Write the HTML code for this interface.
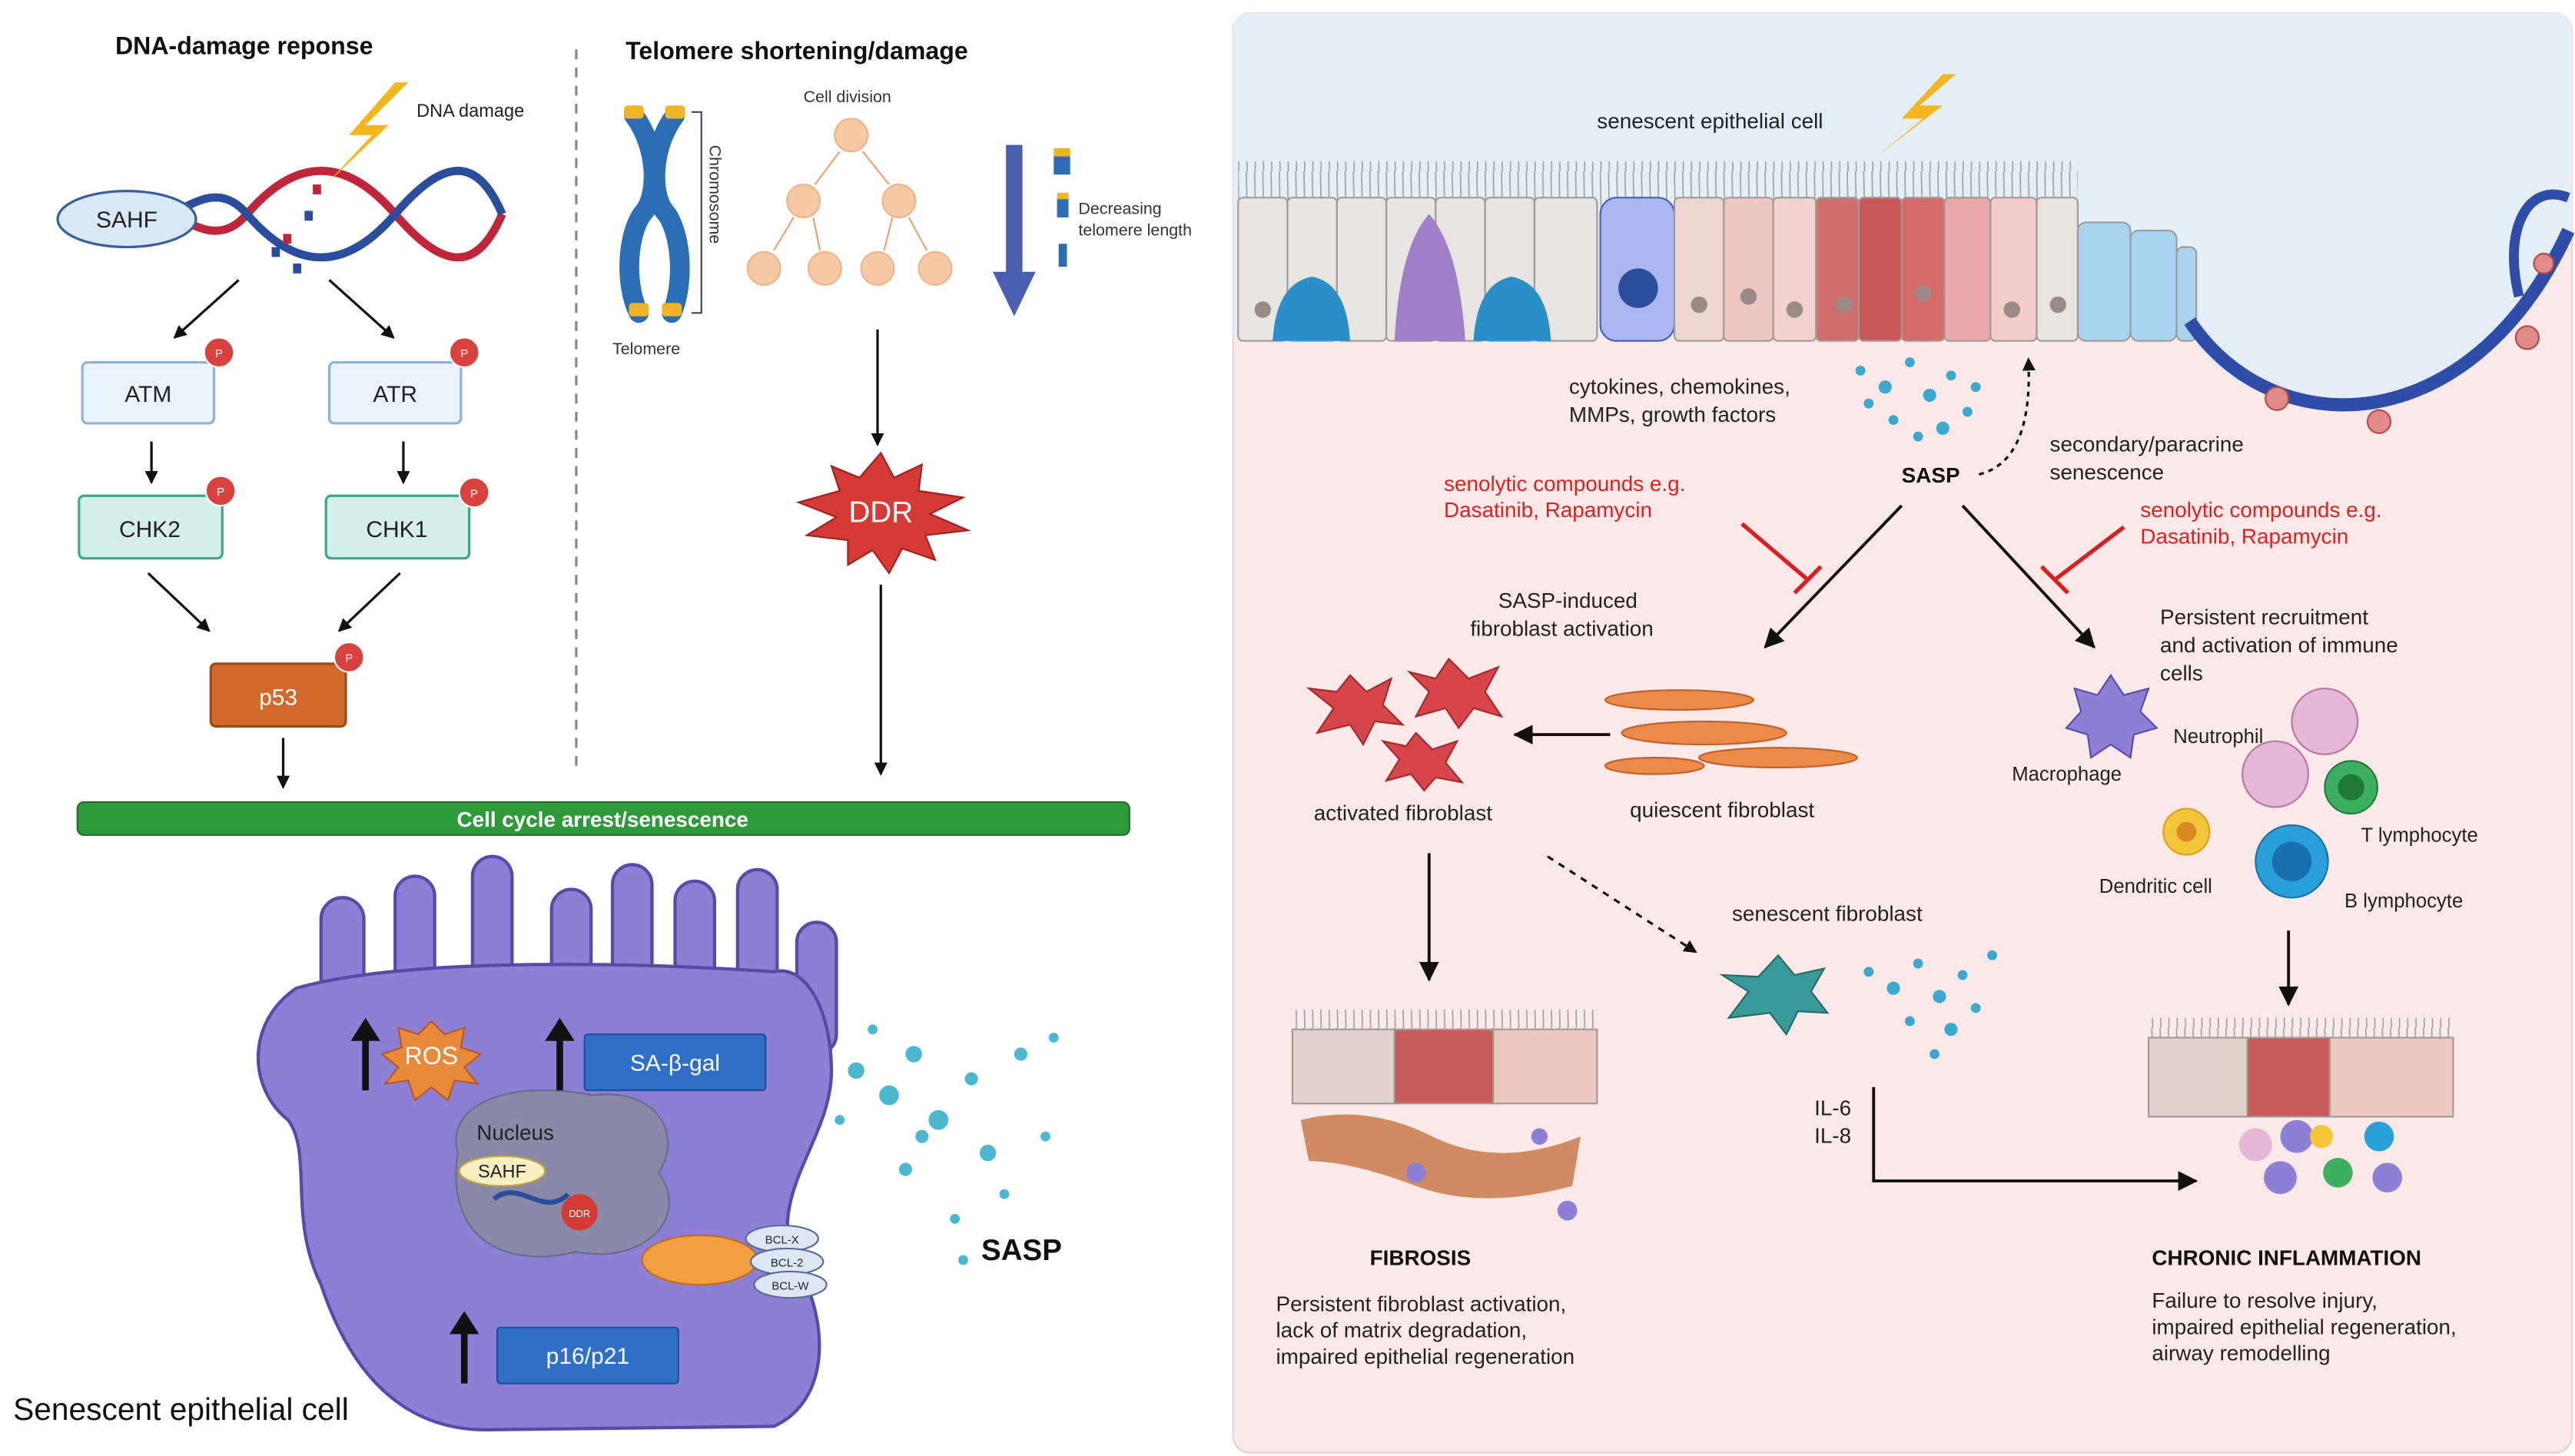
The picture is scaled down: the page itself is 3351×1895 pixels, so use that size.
<!DOCTYPE html>
<html><head><meta charset="utf-8"><style>
html,body{margin:0;padding:0;background:#fff;}
svg{display:block;}
text{font-family:"Liberation Sans",Arial,sans-serif;}
</style></head><body>
<svg width="3351" height="1895" viewBox="0 0 1564 884" preserveAspectRatio="none" xmlns="http://www.w3.org/2000/svg">
<defs>
<marker id="ah" markerWidth="8" markerHeight="8" refX="7" refY="4" orient="auto" markerUnits="userSpaceOnUse"><path d="M0,0 L8,4 L0,8 z" fill="#111"/></marker>
<marker id="ah2" markerWidth="12" markerHeight="12" refX="11" refY="6" orient="auto" markerUnits="userSpaceOnUse"><path d="M0,0 L12,6 L0,12 z" fill="#111"/></marker>
<pattern id="cil" width="5" height="26" patternUnits="userSpaceOnUse"><line x1="2" y1="0" x2="2.5" y2="26" stroke="#9aa3aa" stroke-width="0.8"/></pattern>
</defs>
<rect width="1564" height="884" fill="#fff"/>

<!-- LEFT PANEL -->
<text x="70" y="33" font-size="15" font-weight="bold" fill="#111">DNA-damage reponse</text>
<text x="380" y="36" font-size="15" font-weight="bold" fill="#111">Telomere shortening/damage</text>
<line x1="350" y1="30" x2="350" y2="470" stroke="#888" stroke-width="1.5" stroke-dasharray="6,5"/>

<path d="M60,130 C90,95 120,165 150,130 S210,95 240,130 S290,165 305,130" fill="none" stroke="#c0263a" stroke-width="5"/>
<path d="M60,130 C90,165 120,95 150,130 S210,165 240,130 S290,95 305,130" fill="none" stroke="#2a4e9c" stroke-width="5"/>
<g fill="#2a4e9c"><rect x="165" y="150" width="5" height="6"/><rect x="178" y="160" width="5" height="6"/><rect x="185" y="128" width="5" height="6"/></g>
<g fill="#c0263a"><rect x="172" y="142" width="5" height="6"/><rect x="190" y="112" width="5" height="6"/></g>
<ellipse cx="77" cy="133" rx="42" ry="17" fill="#d8e8f6" stroke="#3a5e9a" stroke-width="1.5"/>
<text x="77" y="138" font-size="14" text-anchor="middle" fill="#222">SAHF</text>
<polygon points="240,50 212,82 226,82 198,112 236,76 222,76 248,50" fill="#f3b71d"/>
<text x="253" y="71" font-size="11" fill="#222">DNA damage</text>
<line x1="145" y1="170" x2="106" y2="205" stroke="#111" stroke-width="1.5" marker-end="url(#ah)"/>
<line x1="200" y1="170" x2="239" y2="205" stroke="#111" stroke-width="1.5" marker-end="url(#ah)"/>
<rect x="50" y="220" width="80" height="37" rx="3" fill="#eaf2fb" stroke="#8fb2d8" stroke-width="1.5"/>
<text x="90" y="244" font-size="14" text-anchor="middle" fill="#222">ATM</text>
<rect x="200" y="220" width="80" height="37" rx="3" fill="#eaf2fb" stroke="#8fb2d8" stroke-width="1.5"/>
<text x="240" y="244" font-size="14" text-anchor="middle" fill="#222">ATR</text>
<line x1="92" y1="268" x2="92" y2="293" stroke="#111" stroke-width="1.5" marker-end="url(#ah)"/>
<line x1="245" y1="268" x2="245" y2="293" stroke="#111" stroke-width="1.5" marker-end="url(#ah)"/>
<rect x="48" y="301" width="87" height="38" rx="3" fill="#d4efe8" stroke="#3fa58f" stroke-width="1.5"/>
<text x="91" y="326" font-size="14" text-anchor="middle" fill="#222">CHK2</text>
<rect x="198" y="301" width="87" height="38" rx="3" fill="#d4efe8" stroke="#3fa58f" stroke-width="1.5"/>
<text x="241" y="326" font-size="14" text-anchor="middle" fill="#222">CHK1</text>
<line x1="90" y1="348" x2="127" y2="383" stroke="#111" stroke-width="1.5" marker-end="url(#ah)"/>
<line x1="243" y1="348" x2="206" y2="383" stroke="#111" stroke-width="1.5" marker-end="url(#ah)"/>
<rect x="128" y="403" width="82" height="38" rx="3" fill="#d2692a" stroke="#9c4a18" stroke-width="1.5"/>
<text x="169" y="428" font-size="14" text-anchor="middle" fill="#fff">p53</text>
<g fill="#d9413f" stroke="#fff" stroke-width="1"><circle cx="133" cy="214" r="9"/><circle cx="282" cy="214" r="9"/><circle cx="134" cy="298" r="9"/><circle cx="288" cy="299" r="9"/><circle cx="212" cy="399" r="9"/></g>
<g font-size="7" fill="#fff" text-anchor="middle"><text x="133" y="217">P</text><text x="282" y="217">P</text><text x="134" y="301">P</text><text x="288" y="302">P</text><text x="212" y="402">P</text></g>
<line x1="172" y1="448" x2="172" y2="478" stroke="#111" stroke-width="1.5" marker-end="url(#ah)"/>

<path d="M385,70 C400,90 400,120 390,130 C380,145 380,175 388,190" stroke="#2a6fb5" stroke-width="12" fill="none" stroke-linecap="round"/>
<path d="M410,70 C395,90 395,120 405,130 C415,145 415,175 408,190" stroke="#2a6fb5" stroke-width="12" fill="none" stroke-linecap="round"/>
<g fill="#f0b429"><rect x="379" y="64" width="12" height="8" rx="2"/><rect x="404" y="64" width="12" height="8" rx="2"/><rect x="382" y="184" width="12" height="8" rx="2"/><rect x="402" y="184" width="12" height="8" rx="2"/></g>
<path d="M420,68 L426,68 L426,190 L420,190" fill="none" stroke="#444" stroke-width="1"/>
<text x="0" y="0" font-size="10" fill="#333" transform="translate(431,88) rotate(90)">Chromosome</text>
<text x="372" y="215" font-size="10" fill="#333">Telomere</text>
<text x="488" y="62" font-size="10" fill="#333">Cell division</text>
<g fill="#f6c9a4" stroke="#e9b58a"><circle cx="517" cy="82" r="10"/><circle cx="488" cy="122" r="10"/><circle cx="546" cy="122" r="10"/><circle cx="464" cy="163" r="10"/><circle cx="501" cy="163" r="10"/><circle cx="533" cy="163" r="10"/><circle cx="568" cy="163" r="10"/></g>
<g stroke="#e9a070" stroke-width="1" fill="none"><line x1="510" y1="92" x2="495" y2="112"/><line x1="524" y1="92" x2="540" y2="112"/><line x1="482" y1="132" x2="470" y2="152"/><line x1="494" y1="132" x2="498" y2="152"/><line x1="542" y1="132" x2="537" y2="152"/><line x1="552" y1="132" x2="563" y2="152"/></g>
<polygon points="611,88 621,88 621,165 629,165 616,192 603,165 611,165" fill="#4a5fb0"/>
<rect x="640" y="94" width="10" height="12" fill="#2a6fb5"/><rect x="640" y="90" width="10" height="5" fill="#f0b429"/>
<rect x="642" y="120" width="7" height="12" fill="#2a6fb5"/><rect x="642" y="117" width="7" height="4" fill="#f0b429"/>
<rect x="643" y="148" width="5" height="14" fill="#2a6fb5"/>
<text x="655" y="130" font-size="10" fill="#333">Decreasing</text>
<text x="655" y="143" font-size="10" fill="#333">telomere length</text>
<line x1="533" y1="200" x2="533" y2="270" stroke="#111" stroke-width="1.5" marker-end="url(#ah)"/>
<polygon points="535,275 543,290 560,282 558,298 585,302 565,312 588,322 562,325 568,340 548,333 540,348 530,334 515,343 515,328 490,325 508,314 485,305 510,298 505,283 522,290" fill="#d63a35" stroke="#a01f1f"/>
<text x="535" y="317" font-size="18" text-anchor="middle" fill="#fff">DDR</text>
<line x1="535" y1="355" x2="535" y2="470" stroke="#111" stroke-width="1.5" marker-end="url(#ah)"/>

<rect x="47" y="487" width="639" height="20" rx="4" fill="#2e9a3a" stroke="#1f6e28"/>
<text x="366" y="502" font-size="13" font-weight="bold" text-anchor="middle" fill="#fff">Cell cycle arrest/senescence</text>

<g fill="#8e7fd6" stroke="#5a4aa8" stroke-width="2">
<rect x="195" y="545" width="26" height="80" rx="13"/><rect x="240" y="532" width="24" height="90" rx="12"/>
<rect x="287" y="520" width="24" height="100" rx="12"/><rect x="335" y="540" width="24" height="80" rx="12"/>
<rect x="372" y="525" width="24" height="90" rx="12"/><rect x="410" y="535" width="24" height="90" rx="12"/>
<rect x="448" y="528" width="24" height="100" rx="12"/><rect x="484" y="560" width="24" height="80" rx="12"/>
<path d="M180,600 C150,620 150,660 175,680 C190,700 175,740 195,780 C215,840 250,870 300,868 L470,866 C505,850 505,800 480,760 C470,720 505,690 505,650 C505,615 490,585 470,590 C400,585 250,580 180,600 Z"/>
</g>
<path d="M278,700 C270,670 310,655 360,665 C400,660 415,690 400,712 C420,740 390,768 350,760 C310,770 270,755 278,700 Z" fill="#8a8aa8" stroke="#6a6a8a"/>
<text x="313" y="692" font-size="13" text-anchor="middle" fill="#222">Nucleus</text>
<ellipse cx="305" cy="711" rx="26" ry="9" fill="#f7efc2" stroke="#c9a437"/>
<text x="305" y="715" font-size="11" text-anchor="middle" fill="#222">SAHF</text>
<path d="M300,728 C315,715 330,740 345,725" stroke="#2a4e9c" stroke-width="3" fill="none"/>
<circle cx="352" cy="736" r="11" fill="#d63a35"/><text x="352" y="739" font-size="6" text-anchor="middle" fill="#fff">DDR</text>
<polygon points="262,620 270,628 282,624 280,636 292,640 282,648 290,658 276,656 272,668 262,660 252,668 248,656 234,658 242,648 232,640 244,636 242,624 254,628" fill="#e88a3a" stroke="#b8581a"/>
<text x="262" y="646" font-size="15" text-anchor="middle" fill="#fff">ROS</text>
<rect x="355" y="628" width="110" height="34" rx="2" fill="#2f6fc8" stroke="#1c4f95"/>
<text x="410" y="650" font-size="14" text-anchor="middle" fill="#fff">SA-β-gal</text>
<rect x="302" y="806" width="110" height="34" rx="2" fill="#2f6fc8" stroke="#1c4f95"/>
<text x="357" y="828" font-size="14" text-anchor="middle" fill="#fff">p16/p21</text>
<g stroke="#111" stroke-width="4"><line x1="222" y1="662" x2="222" y2="628"/><line x1="340" y1="662" x2="340" y2="628"/><line x1="282" y1="840" x2="282" y2="806"/></g>
<g fill="#111"><polygon points="213,632 222,618 231,632"/><polygon points="331,632 340,618 349,632"/><polygon points="273,810 282,796 291,810"/></g>
<ellipse cx="425" cy="765" rx="35" ry="15" fill="#f0a040" stroke="#c06a1a"/>
<g fill="#dde6f3" stroke="#5a6a9a"><ellipse cx="475" cy="752" rx="22" ry="8"/><ellipse cx="478" cy="766" rx="22" ry="8"/><ellipse cx="480" cy="780" rx="22" ry="8"/></g>
<g font-size="7" fill="#223" text-anchor="middle"><text x="475" y="755">BCL-X</text><text x="478" y="769">BCL-2</text><text x="480" y="783">BCL-W</text></g>
<g fill="#4cb8cf"><circle cx="520" cy="650" r="5"/><circle cx="540" cy="665" r="6"/><circle cx="555" cy="640" r="5"/><circle cx="570" cy="680" r="6"/><circle cx="590" cy="655" r="4"/><circle cx="600" cy="700" r="5"/><circle cx="620" cy="640" r="4"/><circle cx="610" cy="725" r="3"/><circle cx="580" cy="740" r="3"/><circle cx="635" cy="690" r="3"/><circle cx="550" cy="710" r="4"/><circle cx="510" cy="680" r="3"/><circle cx="640" cy="630" r="3"/><circle cx="585" cy="765" r="3"/><circle cx="530" cy="625" r="3"/><circle cx="560" cy="690" r="4"/></g>
<text x="596" y="765" font-size="18" font-weight="bold" fill="#111">SASP</text>
<text x="8" y="862" font-size="19" fill="#111">Senescent epithelial cell</text>

<!-- RIGHT PANEL -->
<rect x="749" y="8" width="813" height="874" rx="10" fill="#fbe8e8" stroke="#e8d0d0"/>
<path d="M749,205 L749,18 Q749,8 759,8 L1552,8 Q1562,8 1562,18 L1562,140 C1500,270 1380,270 1330,205 Z" fill="#e4eef7"/>
<rect x="752" y="98" width="510" height="28" fill="url(#cil)"/>
<g stroke="#a09a96" stroke-width="1">
<rect x="752" y="120" width="30" height="87" rx="3" fill="#e7e4e2"/><rect x="782" y="120" width="30" height="87" rx="3" fill="#e7e4e2"/>
<rect x="812" y="120" width="30" height="87" rx="3" fill="#e7e4e2"/><rect x="842" y="120" width="30" height="87" rx="3" fill="#e7e4e2"/>
<rect x="872" y="120" width="30" height="87" rx="3" fill="#e7e4e2"/><rect x="902" y="120" width="30" height="87" rx="3" fill="#e7e4e2"/>
<rect x="932" y="120" width="38" height="87" rx="3" fill="#e7e4e2"/>
<rect x="972" y="120" width="45" height="87" rx="10" fill="#a9b6ef" stroke="#4a5fb0"/>
<rect x="1017" y="120" width="30" height="87" rx="3" fill="#efd5cf"/><rect x="1047" y="120" width="30" height="87" rx="3" fill="#ecc8c0"/>
<rect x="1077" y="120" width="26" height="87" rx="3" fill="#f1d2cc"/>
<rect x="1103" y="120" width="26" height="87" rx="3" fill="#cf6e6e"/><rect x="1129" y="120" width="26" height="87" rx="3" fill="#c85858"/>
<rect x="1155" y="120" width="26" height="87" rx="3" fill="#d46a6a"/><rect x="1181" y="120" width="28" height="87" rx="3" fill="#e9a9a9"/>
<rect x="1209" y="120" width="28" height="87" rx="3" fill="#f3cccc"/><rect x="1237" y="120" width="25" height="87" rx="3" fill="#e8e4e0"/>
<rect x="1262" y="135" width="32" height="72" rx="5" fill="#a8d3ee"/><rect x="1294" y="140" width="28" height="67" rx="5" fill="#a8d3ee"/>
<rect x="1322" y="150" width="12" height="57" rx="4" fill="#a8d3ee"/>
</g>
<g fill="#2a8fc7"><path d="M773,207 Q775,172 797,168 Q818,172 820,207 Z"/><path d="M895,207 Q897,172 918,168 Q940,172 942,207 Z"/></g>
<path d="M847,207 Q850,150 868,130 Q886,150 890,207 Z" fill="#a07fc8"/>
<circle cx="995" cy="175" r="12" fill="#2a4e9c"/>
<g fill="#9a8a86"><circle cx="767" cy="188" r="5"/><circle cx="1032" cy="185" r="5"/><circle cx="1062" cy="180" r="5"/><circle cx="1090" cy="188" r="5"/><circle cx="1120" cy="185" r="5"/><circle cx="1168" cy="178" r="5"/><circle cx="1222" cy="188" r="5"/><circle cx="1250" cy="185" r="5"/></g>
<path d="M1330,195 C1380,270 1500,270 1560,140" fill="none" stroke="#2f4da8" stroke-width="8"/>
<path d="M1560,120 C1535,110 1520,140 1530,180" fill="none" stroke="#2f4da8" stroke-width="6"/>
<g fill="#e08a8a" stroke="#b24a4a"><circle cx="1383" cy="242" r="7"/><circle cx="1445" cy="256" r="7"/><circle cx="1535" cy="205" r="7"/><circle cx="1545" cy="160" r="6"/></g>
<text x="970" y="78" font-size="13" fill="#222">senescent epithelial cell</text>
<polygon points="1180,45 1155,72 1168,72 1140,95 1180,64 1166,64 1188,45" fill="#f3b71d"/>
<text x="953" y="239" font-size="13" fill="#222">cytokines, chemokines,</text>
<text x="953" y="256" font-size="13" fill="#222">MMPs, growth factors</text>
<g fill="#3aa8cf"><circle cx="1130" cy="225" r="3"/><circle cx="1145" cy="235" r="4"/><circle cx="1160" cy="220" r="3"/><circle cx="1172" cy="240" r="4"/><circle cx="1185" cy="228" r="3"/><circle cx="1150" cy="255" r="3"/><circle cx="1180" cy="260" r="4"/><circle cx="1195" cy="250" r="3"/><circle cx="1165" cy="265" r="3"/><circle cx="1135" cy="245" r="3"/><circle cx="1200" cy="235" r="3"/></g>
<text x="1155" y="293" font-size="13" font-weight="bold" fill="#111">SASP</text>
<path d="M1202,288 Q1235,280 1232,218" fill="none" stroke="#111" stroke-width="1.5" stroke-dasharray="3,3" marker-end="url(#ah)"/>
<text x="1245" y="274" font-size="13" fill="#222">secondary/paracrine</text>
<text x="1245" y="291" font-size="13" fill="#222">senescence</text>
<g font-size="13" fill="#e02020"><text x="877" y="298">senolytic compounds e.g.</text><text x="877" y="314">Dasatinib, Rapamycin</text>
<text x="1300" y="314">senolytic compounds e.g.</text><text x="1300" y="330">Dasatinib, Rapamycin</text></g>
<g stroke="#d82020" stroke-width="2.5"><line x1="1058" y1="318" x2="1098" y2="352"/><line x1="1090" y1="360" x2="1106" y2="344"/>
<line x1="1290" y1="320" x2="1248" y2="352"/><line x1="1240" y1="344" x2="1256" y2="360"/></g>
<line x1="1155" y1="307" x2="1072" y2="393" stroke="#111" stroke-width="1.8" marker-end="url(#ah2)"/>
<line x1="1192" y1="307" x2="1272" y2="393" stroke="#111" stroke-width="1.8" marker-end="url(#ah2)"/>
<text x="910" y="369" font-size="13" fill="#222">SASP-induced</text>
<text x="893" y="386" font-size="13" fill="#222">fibroblast activation</text>
<text x="1312" y="379" font-size="13" fill="#222">Persistent recruitment</text>
<text x="1312" y="396" font-size="13" fill="#222">and activation of immune</text>
<text x="1312" y="413" font-size="13" fill="#222">cells</text>
<g fill="#d8454a" stroke="#a02a2e"><polygon points="820,410 830,420 845,412 840,428 852,440 835,438 828,452 820,440 800,445 810,430 795,418 812,420"/>
<polygon points="880,400 892,412 910,405 902,420 912,435 895,430 886,442 878,430 860,435 868,420 856,408 872,412"/>
<polygon points="860,445 870,455 885,450 878,463 888,475 872,472 865,480 857,470 842,474 850,461 840,450 854,453"/></g>
<line x1="978" y1="446" x2="920" y2="446" stroke="#111" stroke-width="1.8" marker-end="url(#ah2)"/>
<g fill="#ec8a4a" stroke="#c0602a"><ellipse cx="1020" cy="425" rx="45" ry="6"/><ellipse cx="1035" cy="445" rx="50" ry="7"/><ellipse cx="1080" cy="460" rx="48" ry="6"/><ellipse cx="1005" cy="465" rx="30" ry="5"/></g>
<text x="798" y="498" font-size="13" fill="#222">activated fibroblast</text>
<text x="990" y="496" font-size="13" fill="#222">quiescent fibroblast</text>
<g fill="#8d7fd6" stroke="#5a4aa8"><polygon points="1282,410 1290,422 1305,418 1300,432 1310,442 1296,446 1294,460 1282,452 1270,460 1268,446 1255,442 1264,432 1260,418 1274,422"/></g>
<text x="1222" y="474" font-size="12" fill="#222">Macrophage</text>
<text x="1320" y="451" font-size="12" fill="#222">Neutrophil</text>
<circle cx="1412" cy="438" r="20" fill="#e6b6d6" stroke="#b07aa0"/>
<circle cx="1382" cy="470" r="20" fill="#e6b6d6" stroke="#b07aa0"/>
<circle cx="1428" cy="478" r="16" fill="#3cb060" stroke="#207a40"/><circle cx="1428" cy="478" r="8" fill="#1f7a3a"/>
<circle cx="1392" cy="523" r="22" fill="#2a9fd8" stroke="#1a70a8"/><circle cx="1392" cy="523" r="12" fill="#1a6fb0"/>
<circle cx="1328" cy="505" r="14" fill="#f3c63a" stroke="#d8a020"/><circle cx="1328" cy="505" r="6" fill="#d88a20"/>
<text x="1434" y="511" font-size="12" fill="#222">T lymphocyte</text>
<text x="1275" y="542" font-size="12" fill="#222">Dendritic cell</text>
<text x="1424" y="551" font-size="12" fill="#222">B lymphocyte</text>
<line x1="868" y1="518" x2="868" y2="595" stroke="#111" stroke-width="1.8" marker-end="url(#ah2)"/>
<line x1="940" y1="520" x2="1030" y2="578" stroke="#111" stroke-width="1.5" stroke-dasharray="4,4" marker-end="url(#ah)"/>
<text x="1052" y="559" font-size="13" fill="#222">senescent fibroblast</text>
<polygon points="1080,580 1090,592 1108,588 1100,602 1110,615 1092,614 1085,628 1075,615 1050,618 1062,602 1046,592 1068,593" fill="#3a9a9a" stroke="#246a6a"/>
<g fill="#3aa8cf"><circle cx="1135" cy="590" r="3"/><circle cx="1150" cy="600" r="4"/><circle cx="1165" cy="585" r="3"/><circle cx="1178" cy="605" r="4"/><circle cx="1192" cy="592" r="3"/><circle cx="1160" cy="620" r="3"/><circle cx="1185" cy="625" r="4"/><circle cx="1200" cy="612" r="3"/><circle cx="1210" cy="580" r="3"/><circle cx="1175" cy="640" r="3"/></g>
<text x="1102" y="677" font-size="13" fill="#222">IL-6</text>
<text x="1102" y="694" font-size="13" fill="#222">IL-8</text>
<path d="M1138,660 L1138,717 L1334,717" fill="none" stroke="#111" stroke-width="1.8" marker-end="url(#ah2)"/>
<line x1="1390" y1="565" x2="1390" y2="610" stroke="#111" stroke-width="1.8" marker-end="url(#ah2)"/>
<rect x="785" y="613" width="185" height="12" fill="url(#cil)"/>
<g stroke="#a09a96"><rect x="785" y="625" width="62" height="45" fill="#e0d2cc"/><rect x="847" y="625" width="60" height="45" fill="#c85a5a"/><rect x="907" y="625" width="63" height="45" fill="#ecc8c0"/></g>
<path d="M790,680 Q830,670 870,690 T960,690 L955,720 Q900,735 860,720 T795,705 Z" fill="#c87a4a" opacity="0.85"/>
<g fill="#8d7fd6"><circle cx="860" cy="712" r="6"/><circle cx="952" cy="735" r="6"/><circle cx="935" cy="690" r="5"/></g>
<text x="832" y="768" font-size="13" font-weight="bold" fill="#111">FIBROSIS</text>
<g font-size="13" fill="#222"><text x="775" y="796">Persistent fibroblast activation,</text><text x="775" y="812">lack of matrix degradation,</text><text x="775" y="828">impaired epithelial regeneration</text></g>
<rect x="1305" y="618" width="185" height="12" fill="url(#cil)"/>
<g stroke="#a09a96"><rect x="1305" y="630" width="60" height="48" fill="#e0d2cc"/><rect x="1365" y="630" width="50" height="48" fill="#c85a5a"/><rect x="1415" y="630" width="75" height="48" fill="#ecc8c0"/></g>
<g><circle cx="1370" cy="695" r="10" fill="#e6b6d6"/><circle cx="1395" cy="690" r="10" fill="#8d7fd6"/><circle cx="1420" cy="712" r="9" fill="#3cb060"/><circle cx="1445" cy="690" r="9" fill="#2a9fd8"/><circle cx="1385" cy="715" r="10" fill="#8d7fd6"/><circle cx="1450" cy="715" r="9" fill="#8d7fd6"/><circle cx="1410" cy="690" r="7" fill="#f3c63a"/></g>
<text x="1307" y="768" font-size="13" font-weight="bold" fill="#111">CHRONIC INFLAMMATION</text>
<g font-size="13" fill="#222"><text x="1307" y="794">Failure to resolve injury,</text><text x="1307" y="810">impaired epithelial regeneration,</text><text x="1307" y="826">airway remodelling</text></g>
</svg>
</body></html>
